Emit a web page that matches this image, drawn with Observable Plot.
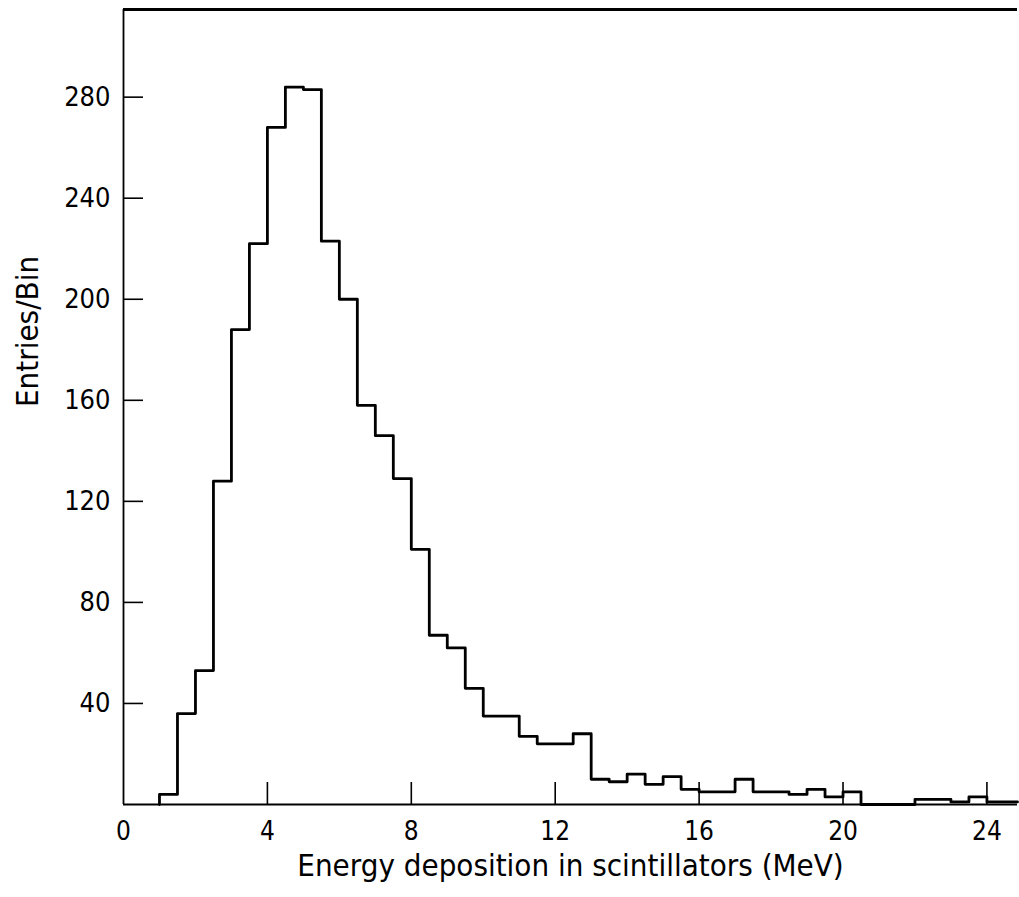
<!DOCTYPE html>
<html>
<head>
<meta charset="utf-8">
<script src="https://cdn.jsdelivr.net/npm/d3@7"></script>
<script src="https://cdn.jsdelivr.net/npm/@observablehq/plot@0.6"></script>
<style>
  html, body { margin: 0; padding: 0; background: #fff; }
  #chart svg { display: block; }
</style>
</head>
<body>
<div id="chart"></div>
<script>
// Bin lower edges (MeV), 0.5 MeV bins
const binEdges = [1.0, 1.5, 2.0, 2.5, 3.0, 3.5, 4.0, 4.5, 5.0, 5.5, 6.0, 6.5, 7.0, 7.5, 8.0, 8.5,
  9.0, 9.5, 10.0, 10.5, 11.0, 11.5, 12.0, 12.5, 13.0, 13.5, 14.0, 14.5, 15.0, 15.5, 16.0, 16.5,
  17.0, 17.5, 18.0, 18.5, 19.0, 19.5, 20.0, 20.5, 21.0, 21.5, 22.0, 22.5, 23.0, 23.5, 24.0, 24.5];
// Entries per bin
const counts = [4, 36, 53, 128, 188, 222, 268, 284, 283, 223, 200, 158, 146, 129, 101, 67,
  62, 46, 35, 35, 27, 24, 24, 28, 10, 9, 12, 8, 11, 6, 5, 5,
  10, 5, 5, 4, 6, 3, 5, 0, 0, 0, 2, 2, 1, 3, 1, 1];
const xDomain = [0, 24.85];
const yDomain = [0, 314.7];
const xTicks = [0, 4, 8, 12, 16, 20, 24];
const yTicks = [40, 80, 120, 160, 200, 240, 280];
const xLabel = "Energy deposition in scintillators (MeV)";
const yLabel = "Entries/Bin";

// step outline points
const pts = [{x: binEdges[0], y: 0}];
binEdges.forEach((e, i) => pts.push({x: e, y: counts[i]}));
pts.push({x: xDomain[1], y: counts[counts.length - 1]});

const W = 1019, H = 897;
const mL = 123, mR = 2, mT = 9, mB = 93;
const fw = W - mL - mR, fh = H - mT - mB;

const chart = Plot.plot({
  width: W,
  height: H,
  marginLeft: mL,
  marginRight: mR,
  marginTop: mT,
  marginBottom: mB,
  style: {fontFamily: "'DejaVu Sans Condensed', 'DejaVu Sans', sans-serif", color: "#000", background: "#fff"},
  x: {domain: xDomain},
  y: {domain: yDomain},
  marks: [
    Plot.axisX({ticks: xTicks, tickSize: 0, tickPadding: 17, fontSize: 26, label: null, tickFormat: d => String(d)}),
    Plot.axisY({ticks: yTicks, tickSize: 0, tickPadding: 13, fontSize: 27, label: null, tickFormat: d => String(d)}),
    Plot.ruleX(xTicks.slice(1), {x: d => d, insetTop: fh - 22, stroke: "#000", strokeWidth: 1.6}),
    Plot.ruleY(yTicks, {y: d => d, insetRight: fw - 20, stroke: "#000", strokeWidth: 1.6}),
    Plot.ruleY([yDomain[0]], {stroke: "#000", strokeWidth: 2.2}),
    Plot.ruleX([xDomain[0]], {stroke: "#000", strokeWidth: 1.8}),
    Plot.ruleY([yDomain[1]], {stroke: "#000", strokeWidth: 3}),
    Plot.line(pts, {x: "x", y: "y", curve: "step-after", stroke: "#000", strokeWidth: 2.8}),
    Plot.text([xLabel], {frameAnchor: "bottom", dy: 49, lineAnchor: "top", fontSize: 31, fill: "#000", letterSpacing: 0.8}),
    Plot.text([yLabel], {frameAnchor: "left", dx: -95, rotate: -90, fontSize: 31, fill: "#000"})
  ]
});
document.getElementById("chart").appendChild(chart);
</script>
</body>
</html>
